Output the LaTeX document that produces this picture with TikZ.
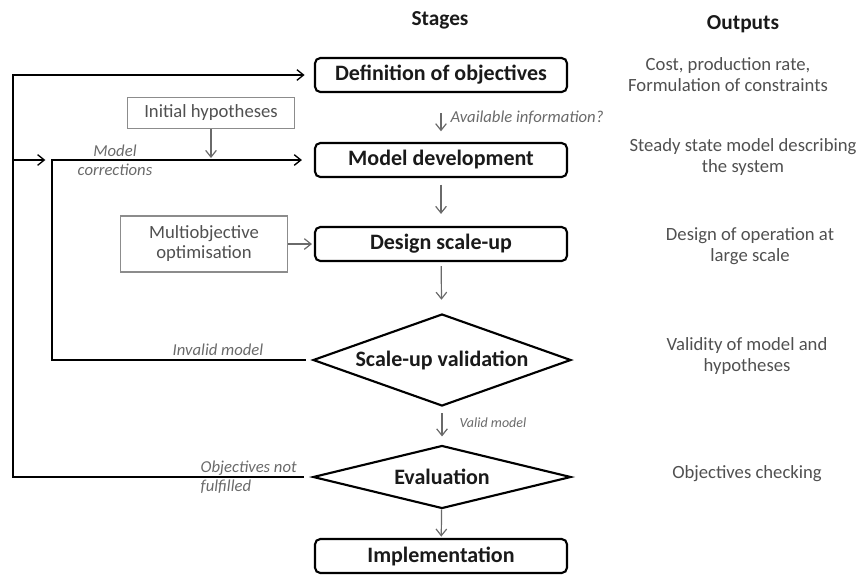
\documentclass[tikz,border=0pt]{standalone}
\usepackage{fontspec}
\setmainfont{Carlito}
\usepackage{xcolor}
\usepackage{tikz}
\usetikzlibrary{shapes.geometric,arrows.meta}
\definecolor{ink}{HTML}{1A1A1A}
\definecolor{muted}{HTML}{505050}
\definecolor{soft}{HTML}{6A6A6A}
\definecolor{frame}{HTML}{8C8C8C}
\tikzset{
  stage/.style={draw=black, line width=1.6pt, rounded corners=4pt, fill=white, text=ink,
    minimum width=189pt, minimum height=25.5pt, inner sep=0pt, font=\fontsize{16.5}{19}\selectfont\bfseries},
  check/.style={diamond, draw=black, line width=1.6pt, fill=white, text=ink, inner sep=0pt,
    minimum width=193.5pt, font=\fontsize{16.5}{19}\selectfont\bfseries},
  side/.style={draw=frame, line width=0.8pt, text=muted, align=center, inner sep=0pt,
    minimum width=125pt, font=\fontsize{14}{15}\selectfont},
  flow/.style={draw=soft, line width=0.9pt, -{Straight Barb[length=5pt,width=8pt]},
    shorten <=3pt, shorten >=7pt},
  back/.style={draw=black, line width=1pt, -{Straight Barb[length=5pt,width=8pt]}},
  head/.style={text=ink, font=\fontsize{16}{19}\selectfont\bfseries},
  outp/.style={text=muted, align=center, font=\fontsize{14}{15.75}\selectfont},
  lab/.style={text=soft, font=\fontsize{12.5}{14}\selectfont\itshape},
  labs/.style={text=soft, font=\fontsize{10.5}{12}\selectfont\itshape},
}
\begin{document}
\begin{tikzpicture}[x=0.75pt,y=-0.75pt]
  \useasboundingbox (0,0) rectangle (860,576);
  \node[head] (stg) at (440,20) {Stages};
  \node[head] (outs) at (743,24) {Outputs};
  \node[stage] (def) at (441,75) {Definition of objectives};
  \node[stage] (model) at (441,160) {Model development};
  \node[stage] (design) at (441,244) {Design scale-up};
  \node[check, minimum height=69pt, aspect=2.8] (valid) at (442,360) {Scale-up validation};
  \node[check, minimum height=47.25pt, aspect=4] (eval) at (442,477) {Evaluation};
  \node[stage] (impl) at (441,556) {Implementation};
  \node[side, minimum height=23.25pt] (hyp) at (211,113) {Initial hypotheses};
  \node[side, minimum height=42pt] (multi) at (204,244) {Multiobjective\\optimisation};
  \node[outp] (o1) at (728,75) {Cost, production rate,\\Formulation of constraints};
  \node[outp] (o2) at (743,157) {Steady state model describing\\the system};
  \node[outp] (o3) at (750,246) {Design of operation at\\large scale};
  \node[outp] (o4) at (747,356) {Validity of model and\\hypotheses};
  \node[outp] (o5) at (747,474) {Objectives checking};
  \coordinate (outer) at (13,300);
  \coordinate (inner) at (52,300);
  \draw[flow, shorten <=15pt, shorten >=8pt] (def) -- (model);
  \draw[flow, shorten <=5pt, shorten >=9pt] (model) -- (design);
  \draw[flow, shorten >=10pt] (design) -- (valid);
  \draw[flow, shorten <=4.5pt, shorten >=6pt] (valid) -- (eval);
  \draw[flow, shorten <=0pt, shorten >=1pt] (eval) -- (impl);
  \draw[flow, shorten <=0pt, shorten >=1.5pt] (multi) -- (design);
  \draw[flow, shorten <=0pt, shorten >=1.5pt] (hyp) -- (hyp.south |- model.west);
  \draw[back, shorten <=6pt, shorten >=7pt] (eval) -| (outer) |- (def);
  \draw[back, shorten <=4.5pt, shorten >=9pt] (valid) -| (inner) |- (model);
  \draw[back, shorten >=5pt] (outer |- model.west) -- (inner |- model.west);
  \node[lab, anchor=west] (avail) at (446,118) {Available information?};
  \node[labs, anchor=west] (okl) at (455,423) {Valid model};
  \node[lab] (badl) at (218,350) {Invalid model};
  \node[lab, align=center] (corr) at (115,160) {Model\\corrections};
  \node[lab, align=left, anchor=west] (notf) at (196,477) {Objectives not\\fulfilled};
\end{tikzpicture}
\end{document}
